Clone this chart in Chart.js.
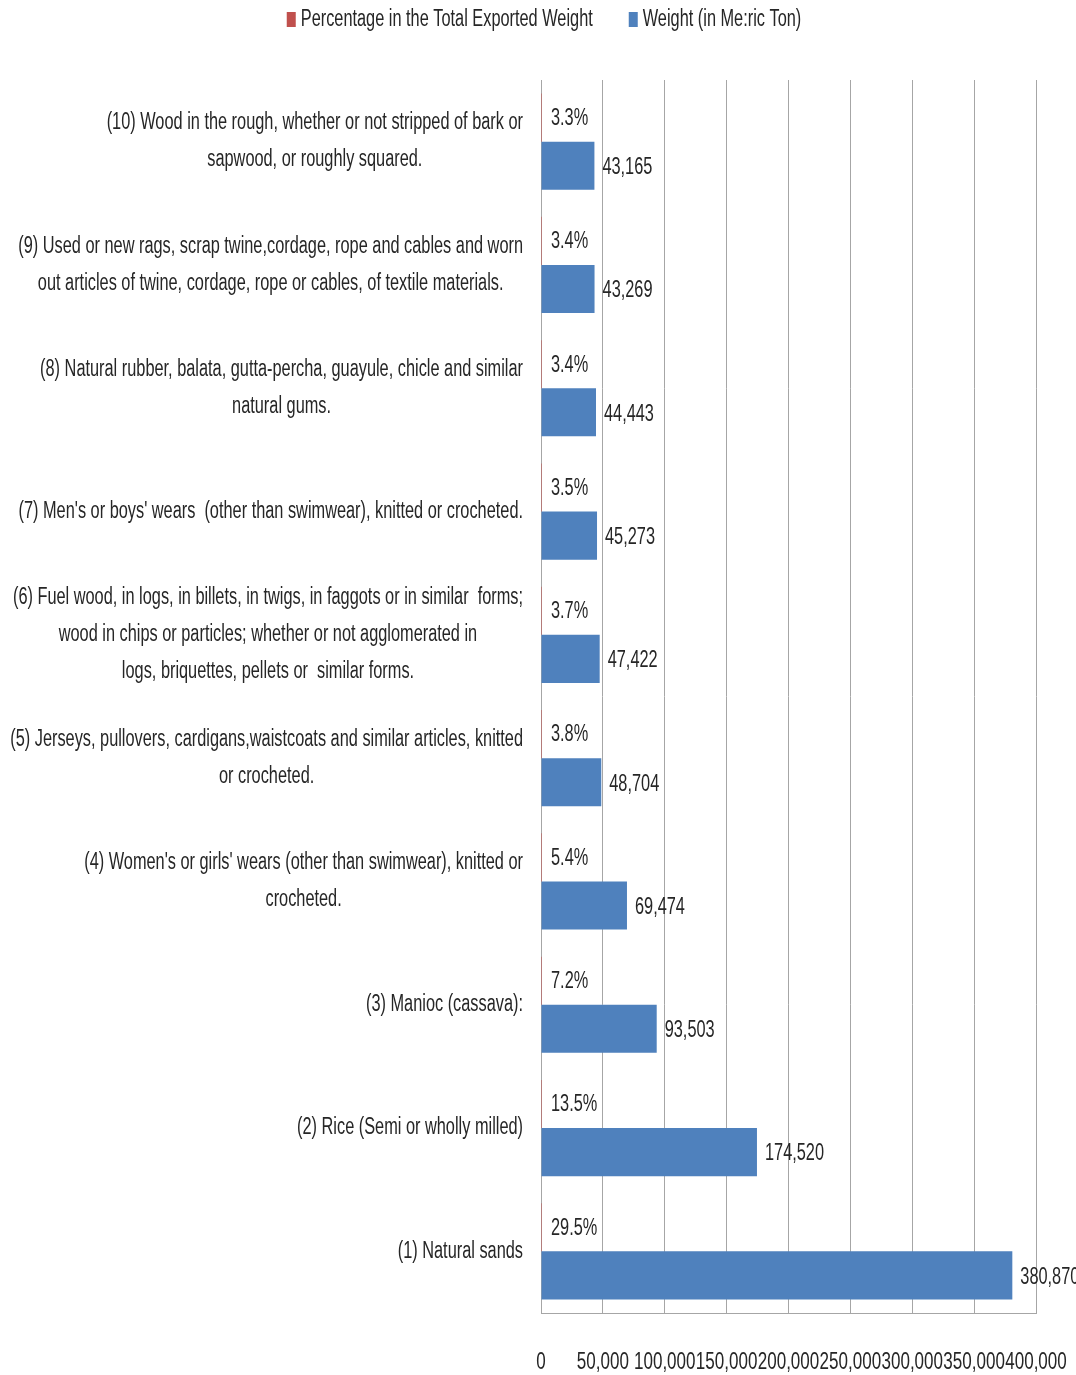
<!DOCTYPE html>
<html>
<head>
<meta charset="utf-8">
<script src="https://cdn.jsdelivr.net/npm/chart.js@4.4.0/dist/chart.umd.min.js"></script>
<style>
  html, body { margin: 0; padding: 0; background: #fff; }
  canvas { display: block; }
</style>
</head>
<body>
<canvas id="exportChart" width="1076" height="1375"></canvas>
<script>
// top ten export items, listed top to bottom
const categories = [
  ["(10) Wood in the rough, whether or not stripped of bark or", "sapwood, or roughly squared."],
  ["(9) Used or new rags, scrap twine,cordage, rope and cables and worn", "out articles of twine, cordage, rope or cables, of textile materials."],
  ["(8) Natural rubber, balata, gutta-percha, guayule, chicle and similar", "natural gums."],
  ["(7) Men's or boys' wears  (other than swimwear), knitted or crocheted."],
  ["(6) Fuel wood, in logs, in billets, in twigs, in faggots or in similar  forms;", "wood in chips or particles; whether or not agglomerated in", "logs, briquettes, pellets or  similar forms."],
  ["(5) Jerseys, pullovers, cardigans,waistcoats and similar articles, knitted", "or crocheted."],
  ["(4) Women's or girls' wears (other than swimwear), knitted or", "crocheted."],
  ["(3) Manioc (cassava):"],
  ["(2) Rice (Semi or wholly milled)"],
  ["(1) Natural sands"]
];
const pctShare = [3.3, 3.4, 3.4, 3.5, 3.7, 3.8, 5.4, 7.2, 13.5, 29.5];
const weightTons = [43165, 43269, 44443, 45273, 47422, 48704, 69474, 93503, 174520, 380870];
const xMin = 0;
const xMax = 400000;
const xStep = 50000;

const FONT = "'Liberation Sans', Arial, sans-serif";
const SQUEEZE = 0.71;   // narrow lettering
const TEXT = '#262626';
const GRID = '#a6a6a6';

const fmt = v => Number(v).toLocaleString('en-US');

// narrow text: scale horizontally around the anchor point
function narrowText(ctx, str, x, y, align, size) {
  ctx.save();
  ctx.font = size + 'px ' + FONT;
  ctx.fillStyle = TEXT;
  ctx.textAlign = align;
  ctx.textBaseline = 'middle';
  ctx.translate(x, y);
  ctx.scale(SQUEEZE, 1);
  ctx.fillText(str, 0, 0);
  ctx.restore();
}
function narrowWidth(ctx, str, size) {
  ctx.save();
  ctx.font = size + 'px ' + FONT;
  const w = ctx.measureText(str).width * SQUEEZE;
  ctx.restore();
  return w;
}

// legend across the top
const topLegend = {
  id: 'topLegend',
  afterDraw(chart) {
    const { ctx } = chart;
    const size = 23, box = 9, gap = 5, between = 36;
    const items = chart.data.datasets.map(ds => ({
      text: ds.label, color: ds.backgroundColor, w: narrowWidth(ctx, ds.label, size)
    }));
    const total = items.reduce((s, it) => s + box + gap + it.w, 0) + between * (items.length - 1);
    let x = chart.width / 2 + 6 - total / 2;
    const cy = 20;
    items.forEach(it => {
      ctx.fillStyle = it.color;
      ctx.fillRect(x, cy - 8, box, 15);
      narrowText(ctx, it.text, x + box + gap, cy, 'left', size);
      x += box + gap + it.w + between;
    });
  }
};

// category labels: each block centred on itself, right edge against the axis
const categoryLabels = {
  id: 'categoryLabels',
  afterDraw(chart) {
    const { ctx } = chart;
    const y = chart.scales.y;
    const rightEdge = chart.chartArea.left - 18;
    const lineH = 37, size = 23;
    categories.forEach((lines, i) => {
      const cy = y.getPixelForTick(i);
      const w = Math.max(...lines.map(l => narrowWidth(ctx, l, size)));
      const cx = rightEdge - w / 2;
      const top = cy - (lines.length - 1) * lineH / 2;
      lines.forEach((l, k) => narrowText(ctx, l, cx, top + k * lineH, 'center', size));
    });
  }
};

// value axis labels under the plot
const valueTicks = {
  id: 'valueTicks',
  afterDraw(chart) {
    const x = chart.scales.x;
    x.ticks.forEach(t => {
      narrowText(chart.ctx, fmt(t.value), x.getPixelForValue(t.value), 1362, 'center', 24);
    });
  }
};

// value labels at the end of each bar
const barValues = {
  id: 'barValues',
  afterDatasetsDraw(chart) {
    const { ctx } = chart;
    chart.getDatasetMeta(0).data.forEach((bar, i) => {
      narrowText(ctx, pctShare[i].toFixed(1) + '%', bar.x + 10, bar.y + 1, 'left', 23);
    });
    chart.getDatasetMeta(1).data.forEach((bar, i) => {
      narrowText(ctx, fmt(weightTons[i]), bar.x + 8, bar.y + 2, 'left', 23);
    });
  }
};

const config = {
  type: 'bar',
  data: {
    labels: categories.map(l => l.join(' ')),
    datasets: [
      {
        label: 'Percentage in the Total Exported Weight',
        data: pctShare,
        backgroundColor: '#c0504d'
      },
      {
        label: 'Weight (in Me:ric Ton)',
        data: weightTons,
        backgroundColor: '#4f81bd'
      }
    ]
  },
  options: {
    indexAxis: 'y',
    responsive: false,
    animation: false,
    layout: {
      padding: { top: 80, right: 40, bottom: 0, left: 0 }
    },
    datasets: {
      bar: {
        categoryPercentage: 0.78,
        barPercentage: 1
      }
    },
    scales: {
      x: {
        min: xMin,
        max: xMax,
        ticks: { stepSize: xStep, display: false },
        grid: { color: GRID, drawTicks: false },
        border: { color: GRID },
        afterFit: scale => { scale.height = 62; }
      },
      y: {
        ticks: { display: false },
        grid: { display: false, drawTicks: false },
        border: { display: true, color: GRID },
        afterFit: scale => { scale.width = 541; }
      }
    },
    plugins: {
      legend: { display: false },
      tooltip: { enabled: false }
    }
  },
  plugins: [topLegend, categoryLabels, valueTicks, barValues]
};

const exportChart = new Chart(document.getElementById('exportChart'), config);
</script>
</body>
</html>
